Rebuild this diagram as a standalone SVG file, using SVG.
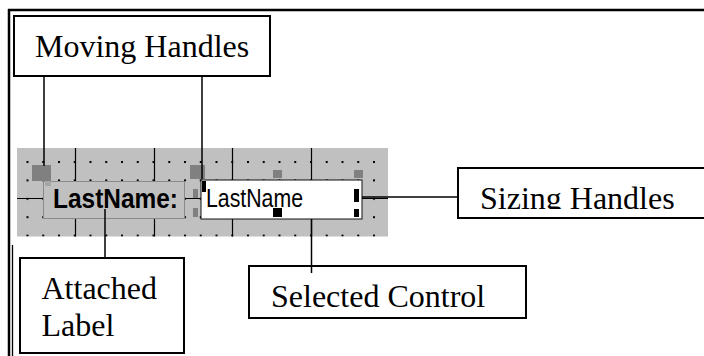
<svg xmlns="http://www.w3.org/2000/svg" width="704" height="356" viewBox="0 0 704 356">
<style>
.box{fill:#fff;stroke:#000;stroke-width:2}
.lbl{font-family:"Liberation Serif","Times New Roman",serif;font-size:32px;fill:#000}
.conn{stroke:#000;stroke-width:1.5;fill:none}
.grid{stroke:#000;stroke-width:1.2;fill:none}
.hnd{fill:#808080}
.blk{fill:#000}
</style>
<defs>
<pattern id="dots" patternUnits="userSpaceOnUse" x="26.5" y="161" width="15.75" height="18.4">
<rect x="0" y="0" width="2" height="2" fill="#000"/>
</pattern>
<clipPath id="clipSizing"><rect x="458" y="168" width="246" height="41"/></clipPath>
</defs>
<rect width="704" height="356" fill="#fff"/>
<g id="frame">
<line x1="8" y1="10" x2="704" y2="10" stroke="#000" stroke-width="2.5"/>
<line x1="9" y1="9" x2="9" y2="356" stroke="#000" stroke-width="2.5"/>
<line x1="12.5" y1="245" x2="12.5" y2="356" stroke="#000" stroke-width="1.3"/>
</g>
<g id="form-design-grid">
<rect x="17" y="148" width="371" height="88.5" fill="#c0c0c0"/>
<rect x="17" y="148" width="371" height="88.5" fill="url(#dots)"/>
<path class="grid" d="M75.5 148V236.5M154.5 148V236.5M232.5 148V236.5M311.5 148V236.5M17 198.5H388"/>
</g>
<g id="label-control">
<rect x="43.5" y="181.5" width="141" height="37" fill="#c0c0c0" stroke="#8a8a8a" stroke-width="1"/>
<rect x="32" y="165" width="19" height="16" class="hnd"/>
<rect x="45" y="181" width="6" height="5" fill="#a6a6a6"/>
<text x="53" y="208" font-family="'Liberation Sans',Arial,sans-serif" font-weight="bold" font-size="27" textLength="125" lengthAdjust="spacingAndGlyphs" fill="#000">LastName:</text>
</g>
<g id="textbox-control">
<rect x="201" y="180" width="161" height="39" fill="#fff" stroke="#101010" stroke-width="1"/>
<rect x="190" y="165" width="15" height="14" class="hnd"/>
<rect x="193" y="189" width="5" height="9" class="hnd"/>
<rect x="193" y="208" width="5" height="9" class="hnd"/>
<rect x="273" y="170" width="9" height="8" class="hnd"/>
<rect x="354" y="170" width="9" height="8" class="hnd"/>
<rect x="202" y="181" width="4" height="11" class="blk"/>
<rect x="354" y="189" width="5" height="13" class="blk"/>
<rect x="354" y="209" width="5" height="8" class="blk"/>
<rect x="273" y="208" width="9" height="9" class="blk"/>
<text x="206" y="207" font-family="'Liberation Sans',Arial,sans-serif" font-size="25" textLength="97" lengthAdjust="spacingAndGlyphs" fill="#000">LastName</text>
</g>
<g id="connectors">
<line class="conn" x1="44" y1="76" x2="44" y2="166"/>
<line class="conn" x1="202" y1="76" x2="202" y2="179"/>
<line class="conn" x1="362" y1="197" x2="458" y2="197"/>
<line class="conn" x1="105" y1="209" x2="105" y2="258"/>
<line class="conn" x1="311.5" y1="219" x2="311.5" y2="273"/>
</g>
<g id="moving-handles">
<rect class="box" x="14" y="16" width="256" height="60"/>
<text class="lbl" x="35" y="57">Moving Handles</text>
</g>
<g id="sizing-handles">
<rect class="box" x="458" y="168" width="250" height="50"/>
<text class="lbl" x="480" y="209" clip-path="url(#clipSizing)">Sizing Handles</text>
</g>
<g id="attached-label">
<rect class="box" x="20" y="258" width="164" height="95"/>
<text class="lbl" x="41.5" y="299">Attached</text>
<text class="lbl" x="41.5" y="336">Label</text>
</g>
<g id="selected-control">
<rect class="box" x="249" y="266" width="277" height="52"/>
<text class="lbl" x="271" y="307">Selected Control</text>
</g>
<line class="conn" x1="311.5" y1="266" x2="311.5" y2="273"/>
</svg>
